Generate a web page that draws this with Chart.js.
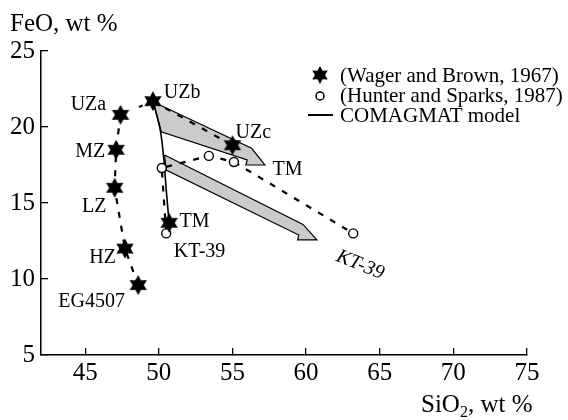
<!DOCTYPE html>
<html>
<head>
<meta charset="utf-8">
<script src="https://cdn.jsdelivr.net/npm/chart.js@4.4.1/dist/chart.umd.min.js"></script>
<style>
  html, body { margin: 0; padding: 0; background: #fff; }
</style>
</head>
<body>
<canvas id="mycanvas" width="568" height="420"></canvas>
<script>
// Wager and Brown (1967), stars
var wbNames = ['EG4507', 'HZ', 'LZ', 'MZ', 'UZa', 'UZb', 'UZc', 'TM'];
var wbSiO2 = [48.6, 47.7, 47.0, 47.1, 47.4, 49.6, 55.0, 50.7];
var wbFeO  = [9.6, 12.0, 16.0, 18.5, 20.8, 21.7, 18.8, 13.7];

// Hunter and Sparks (1987), open circles (KT-39 first)
var hsSiO2 = [50.5, 50.2, 53.4, 55.1, 63.2];
var hsFeO  = [13.0, 17.3, 18.1, 17.7, 13.0];

// COMAGMAT model path
var modelSiO2 = [49.6, 50.1, 50.35, 50.5, 50.7];
var modelFeO  = [21.7, 19.8, 17.8, 15.9, 13.7];

// grey arrows (model trends), outline vertices
var tmArrowSiO2 = [49.64, 56.30, 57.20, 55.91, 56.0, 50.16, 49.64];
var tmArrowFeO  = [21.64, 18.60, 17.50, 17.50, 17.83, 19.69, 21.64];
var ktArrowSiO2 = [50.39, 59.79, 60.73, 59.42, 59.5, 50.50, 50.39];
var ktArrowFeO  = [18.16, 13.59, 12.57, 12.57, 12.89, 17.17, 18.16];

// text labels
var labelText = ['UZa', 'MZ', 'LZ', 'HZ', 'EG4507', 'UZb', 'UZc', 'TM', 'TM', 'KT-39'];
var labelSiO2 = [45.22, 45.34, 45.61, 46.18, 45.44, 51.58, 56.42, 58.74, 52.43, 52.77];
var labelFeO  = [21.45, 18.39, 14.76, 11.38, 8.52, 22.24, 19.61, 17.17, 13.77, 11.80];

var xTicks = [45, 50, 55, 60, 65, 70, 75];
var yTicks = [5, 10, 15, 20, 25];

var serif = '"Liberation Serif", "Times New Roman", serif';

function pts(xs, ys, n) {
	var out = [];
	for (var i = 0; i < (n || xs.length); i++) out.push({x: xs[i], y: ys[i]});
	return out;
}

function makeStar(r) {
	var c = document.createElement('canvas');
	var s = Math.ceil(r * 2 + 2);
	c.width = s; c.height = s;
	var g = c.getContext('2d');
	g.beginPath();
	for (var i = 0; i < 12; i++) {
		var a = Math.PI / 6 * i - Math.PI / 2;
		var rr = (i % 2) ? r * 0.56 : r;
		g.lineTo(s / 2 + rr * Math.cos(a), s / 2 + rr * Math.sin(a));
	}
	g.closePath();
	g.fillStyle = '#000';
	g.fill();
	return c;
}
var star = makeStar(10);
var smallStar = makeStar(9);

var annot = {
	id: 'annot',
	afterDraw: function(chart) {
		var ctx = chart.ctx, xs = chart.scales.x, ys = chart.scales.y;
		ctx.save();
		ctx.fillStyle = '#000';
		ctx.textAlign = 'center';
		ctx.textBaseline = 'middle';
		ctx.font = '20px ' + serif;
		for (var i = 0; i < labelText.length; i++) {
			ctx.fillText(labelText[i], xs.getPixelForValue(labelSiO2[i]), ys.getPixelForValue(labelFeO[i]));
		}
		// rotated label along the KT-39 arrow
		ctx.save();
		ctx.translate(xs.getPixelForValue(63.68), ys.getPixelForValue(10.92));
		ctx.rotate(22 * Math.PI / 180);
		ctx.font = 'italic 20px ' + serif;
		ctx.fillText('KT-39', 0, 0);
		ctx.restore();

		// axis titles
		ctx.textAlign = 'left';
		ctx.textBaseline = 'alphabetic';
		ctx.font = '25px ' + serif;
		ctx.fillText('FeO, wt %', 10, 31);
		var x0 = 421, base = 412;
		ctx.fillText('SiO', x0, base);
		var w = ctx.measureText('SiO').width;
		ctx.font = '16px ' + serif;
		ctx.fillText('2', x0 + w, base + 5);
		var w2 = ctx.measureText('2').width;
		ctx.font = '25px ' + serif;
		ctx.fillText(', wt %', x0 + w + w2, base);

		// legend
		ctx.font = '21px ' + serif;
		ctx.textBaseline = 'middle';
		ctx.drawImage(smallStar, 320 - smallStar.width / 2, 75 - smallStar.height / 2);
		ctx.fillText('(Wager and Brown, 1967)', 340, 76);
		ctx.beginPath();
		ctx.arc(320, 96, 4, 0, Math.PI * 2);
		ctx.fillStyle = '#fff';
		ctx.fill();
		ctx.lineWidth = 1.5;
		ctx.strokeStyle = '#000';
		ctx.stroke();
		ctx.fillStyle = '#000';
		ctx.fillText('(Hunter and Sparks, 1987)', 340, 96);
		ctx.beginPath();
		ctx.moveTo(308, 115);
		ctx.lineTo(333, 115);
		ctx.lineWidth = 2;
		ctx.stroke();
		ctx.fillText('COMAGMAT model', 340, 116);
		ctx.restore();
	}
};

var lineDefaults = {showLine: true, pointRadius: 0, borderColor: '#000', fill: false};

var chartdata = {
	datasets: [
		{
			label: 'Wager and Brown, 1967',
			data: pts(wbSiO2, wbFeO),
			pointStyle: star,
			pointRadius: 5,
			showLine: false
		},
		{
			label: 'Hunter and Sparks, 1987',
			data: pts(hsSiO2, hsFeO),
			pointStyle: 'circle',
			pointRadius: 4.5,
			pointBackgroundColor: '#fff',
			pointBorderColor: '#000',
			pointBorderWidth: 1.4,
			showLine: false
		},
		Object.assign({}, lineDefaults, {
			label: 'COMAGMAT model',
			data: pts(modelSiO2, modelFeO),
			borderWidth: 1.6,
			tension: 0.3
		}),
		Object.assign({}, lineDefaults, {
			label: 'WB trend',
			data: pts(wbSiO2, wbFeO, 7),
			borderWidth: 2.2,
			borderDash: [6, 8],
			// UZa -> UZb only shows one short dash near UZb
			segment: {
				borderDash: function(c) { return c.p0DataIndex === 4 ? [4, 40] : undefined; },
				borderDashOffset: function(c) { return c.p0DataIndex === 4 ? 24 : undefined; }
			}
		}),
		Object.assign({}, lineDefaults, {
			label: 'HS trend',
			data: pts(hsSiO2, hsFeO),
			borderWidth: 2.2,
			borderDash: [6, 8]
		}),
		Object.assign({}, lineDefaults, {
			label: 'TM arrow',
			data: pts(tmArrowSiO2, tmArrowFeO),
			borderWidth: 1.2,
			backgroundColor: '#cbcbcb',
			fill: 'shape'
		}),
		Object.assign({}, lineDefaults, {
			label: 'KT-39 arrow',
			data: pts(ktArrowSiO2, ktArrowFeO),
			borderWidth: 1.2,
			backgroundColor: '#cbcbcb',
			fill: 'shape'
		})
	]
};

var tickFont = {family: serif, size: 25};

var ctx = document.getElementById('mycanvas');
var chart = new Chart(ctx, {
	type: 'scatter',
	data: chartdata,
	plugins: [annot],
	options: {
		responsive: false,
		animation: false,
		layout: {padding: {left: 0, right: 41, top: 51, bottom: 0}},
		plugins: {legend: {display: false}, tooltip: {enabled: false}},
		scales: {
			x: {
				type: 'linear', min: 42, max: 75, position: 'bottom',
				afterBuildTicks: function(s) { s.ticks = xTicks.map(function(v) { return {value: v}; }); },
				afterFit: function(s) { s.height = 65; },
				grid: {drawOnChartArea: false, tickLength: -7, color: '#000', lineWidth: 1.3},
				border: {color: '#000', width: 1.5},
				ticks: {color: '#000', font: tickFont, padding: 10, maxRotation: 0}
			},
			y: {
				type: 'linear', min: 5, max: 25,
				afterBuildTicks: function(s) { s.ticks = yTicks.map(function(v) { return {value: v}; }); },
				afterFit: function(s) { s.width = 41; },
				grid: {drawOnChartArea: false, tickLength: -7, color: '#000', lineWidth: 1.3},
				border: {color: '#000', width: 1.5},
				ticks: {color: '#000', font: tickFont, padding: 13}
			}
		}
	}
});
</script>
</body>
</html>
